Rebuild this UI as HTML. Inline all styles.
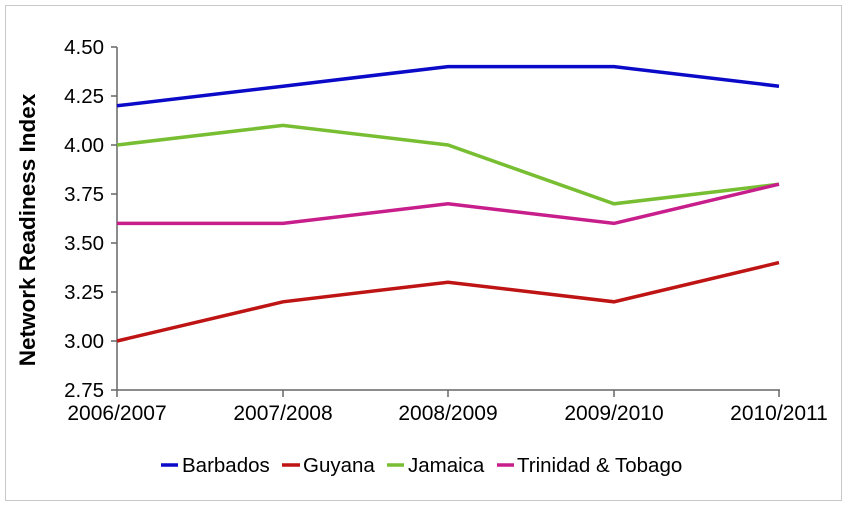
<!DOCTYPE html><html><head><style>body{margin:0;background:#fff}</style></head><body>
<svg width="847" height="506" xmlns="http://www.w3.org/2000/svg" font-family="Liberation Sans, sans-serif">
<rect x="5.5" y="5.5" width="836" height="495" fill="#fff" stroke="#c8c8c8"/>
<g stroke="#666" stroke-width="1.5">
<line x1="117" y1="47" x2="117" y2="397"/>
<line x1="111" y1="390" x2="780" y2="390"/>
<line x1="111" y1="47" x2="117" y2="47"/><line x1="111" y1="96" x2="117" y2="96"/><line x1="111" y1="145" x2="117" y2="145"/><line x1="111" y1="194" x2="117" y2="194"/><line x1="111" y1="243" x2="117" y2="243"/><line x1="111" y1="292" x2="117" y2="292"/><line x1="111" y1="341" x2="117" y2="341"/>
<line x1="283" y1="390" x2="283" y2="397"/><line x1="448" y1="390" x2="448" y2="397"/><line x1="614" y1="390" x2="614" y2="397"/><line x1="779" y1="390" x2="779" y2="397"/>
</g>
<g font-size="20.5" fill="#000" text-anchor="end">
<text x="104" y="54">4.50</text><text x="104" y="103">4.25</text><text x="104" y="152">4.00</text><text x="104" y="201">3.75</text><text x="104" y="250">3.50</text><text x="104" y="299">3.25</text><text x="104" y="348">3.00</text><text x="104" y="397">2.75</text>
</g>
<g font-size="21" fill="#000" text-anchor="middle">
<text x="117" y="420">2006/2007</text><text x="283" y="420">2007/2008</text><text x="448" y="420">2008/2009</text><text x="614" y="420">2009/2010</text><text x="779" y="420">2010/2011</text>
</g>
<text transform="translate(35,230) rotate(-90)" font-size="22.5" font-weight="bold" text-anchor="middle">Network Readiness Index</text>
<g fill="none" stroke-width="3.5">
<polyline stroke="#0a0ac8" points="117,105.8 283,86.2 448,66.6 614,66.6 779,86.2"/>
<polyline stroke="#be1414" points="117,341 283,301.8 448,282.2 614,301.8 779,262.6"/>
<polyline stroke="#78be32" points="117,145 283,125.4 448,145 614,203.8 779,184.2"/>
<polyline stroke="#c81e8c" points="117,223.4 283,223.4 448,203.8 614,223.4 779,184.2"/>
</g>
<g stroke-width="3.5">
<line x1="161" y1="465" x2="178" y2="465" stroke="#0a0ac8"/>
<line x1="282" y1="465" x2="300" y2="465" stroke="#be1414"/>
<line x1="387" y1="465" x2="404" y2="465" stroke="#78be32"/>
<line x1="497" y1="465" x2="514" y2="465" stroke="#c81e8c"/>
</g>
<g font-size="20.5" fill="#000">
<text x="182" y="472">Barbados</text><text x="303" y="472">Guyana</text><text x="408" y="472">Jamaica</text><text x="517" y="472">Trinidad &amp; Tobago</text>
</g>
</svg></body></html>
